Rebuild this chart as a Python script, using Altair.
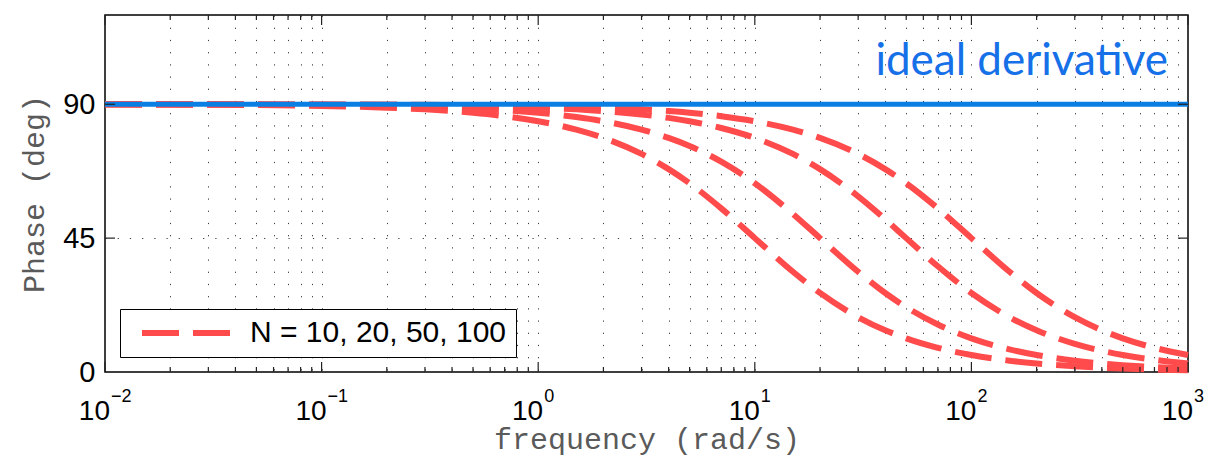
import altair as alt
import pandas as pd

# Frequency samples (rad/s) shared by all phase curves
freq = [0.01, 0.03, 0.1, 0.2, 0.3, 0.5, 0.7, 1, 1.5, 2, 3, 4, 5, 7, 10, 15, 20,
        30, 40, 50, 70, 100, 150, 200, 300, 400, 500, 700, 1000]

# Phase (deg) of the filtered derivative for each filter coefficient N
phase_n10 = [89.94, 89.83, 89.43, 88.85, 88.28, 87.14, 86.00, 84.29, 81.47, 78.69,
             73.30, 68.20, 63.43, 55.01, 45.00, 33.69, 26.57, 18.43, 14.04, 11.31,
             8.13, 5.71, 3.81, 2.86, 1.91, 1.43, 1.15, 0.82, 0.57]
phase_n20 = [89.97, 89.91, 89.71, 89.43, 89.14, 88.57, 88.00, 87.14, 85.71, 84.29,
             81.47, 78.69, 75.96, 70.71, 63.43, 53.13, 45.00, 33.69, 26.57, 21.80,
             15.95, 11.31, 7.59, 5.71, 3.81, 2.86, 2.29, 1.64, 1.15]
phase_n50 = [89.99, 89.97, 89.89, 89.77, 89.66, 89.43, 89.20, 88.85, 88.28, 87.71,
             86.57, 85.43, 84.29, 82.03, 78.69, 73.30, 68.20, 59.04, 51.34, 45.00,
             35.54, 26.57, 18.43, 14.04, 9.46, 7.13, 5.71, 4.09, 2.86]
phase_n100 = [89.99, 89.98, 89.94, 89.89, 89.83, 89.71, 89.60, 89.43, 89.14, 88.85,
              88.28, 87.71, 87.14, 86.00, 84.29, 81.47, 78.69, 73.30, 68.20, 63.43,
              55.01, 45.00, 33.69, 26.57, 18.43, 14.04, 11.31, 8.13, 5.71]

n_values = [10, 20, 50, 100]
legend_label = "N = 10, 20, 50, 100"

# Ideal derivative: constant +90 deg
ideal_freq = [0.01, 1000]
ideal_phase = [90, 90]

# Decade labels (10 with superscript exponent)
decades = [0.01, 0.1, 1, 10, 100, 1000]
exponents = ["\u22122", "\u22121", "0", "1", "2", "3"]

# Major and minor tick positions on the log axis
major_ticks = decades
minor_ticks = [m * d for d in decades[:-1] for m in range(2, 10)]
y_ticks = [0, 45, 90]

W, H = 1083, 357
RED = "#ff4b4b"
BLUE = "#0a7fe3"

rows = []
for n, series in zip(n_values, [phase_n10, phase_n20, phase_n50, phase_n100]):
    for f, p in zip(freq, series):
        rows.append({"freq": f, "phase": p, "N": n, "label": legend_label})
curves = pd.DataFrame(rows)
ideal = pd.DataFrame({"freq": ideal_freq, "phase": ideal_phase})
dec_df = pd.DataFrame({"freq": decades, "exp": exponents, "base": ["10"] * len(decades)})
major_df = pd.DataFrame({"freq": major_ticks})
minor_df = pd.DataFrame({"freq": minor_ticks})
ytick_df = pd.DataFrame({"phase": [45, 90]})

x_scale = alt.Scale(type="log", domain=[0.01, 1000], nice=False)
y_scale = alt.Scale(domain=[0, 120], nice=False)

x_axis = alt.Axis(
    values=major_ticks + minor_ticks, labels=False, ticks=False, domain=False,
    grid=True, gridColor="#3a3a3a", gridDash=[1.2, 11], gridWidth=1,
    title="frequency (rad/s)", titleFont="Liberation Mono", titleFontSize=30,
    titleFontWeight="normal", titleColor="#5a5a5a", titleY=76,
    titleBaseline="alphabetic",
)
y_axis = alt.Axis(
    values=y_ticks, ticks=False, domain=False, grid=True,
    gridColor="#3a3a3a", gridDash=[1.2, 11], gridWidth=1,
    labelFont="Liberation Sans", labelFontSize=29, labelColor="black",
    labelPadding=10, labelFlush=False,
    title="Phase (deg)", titleFont="Liberation Mono", titleFontSize=30,
    titleFontWeight="normal", titleColor="#5a5a5a", titleX=-62, titleY=H / 2,
    titleBaseline="alphabetic", titleAngle=270,
)

# Legend swatch: a wide dashed stroke drawn from a custom path so the
# legend row stays only as tall as its label
red = alt.Chart(curves).mark_line(
    strokeWidth=6, strokeDash=[37, 14], interpolate="monotone"
).encode(
    x=alt.X("freq:Q", scale=x_scale, axis=x_axis),
    y=alt.Y("phase:Q", scale=y_scale, axis=y_axis),
    detail="N:N",
    color=alt.Color(
        "label:N",
        scale=alt.Scale(domain=[legend_label], range=[RED]),
        legend=alt.Legend(
            title=None, orient="bottom-left", offset=15, padding=9,
            fillColor="white", strokeColor="black",
            symbolType="M-1,0H7", symbolSize=484, symbolStrokeWidth=6,
            symbolDash=[37, 14], symbolOffset=9,
            labelFont="Liberation Sans", labelFontSize=30, labelColor="black",
            labelOffset=82, labelLimit=500,
        ),
    ),
)

blue = alt.Chart(ideal).mark_line(strokeWidth=5, color=BLUE).encode(
    x=alt.X("freq:Q", scale=x_scale), y=alt.Y("phase:Q", scale=y_scale)
)

tick_style = dict(color="#222", strokeWidth=1.2)
bottom_major = alt.Chart(major_df).mark_rule(**tick_style).encode(
    x=alt.X("freq:Q", scale=x_scale), y=alt.value(H), y2=alt.value(H - 10))
top_major = alt.Chart(major_df).mark_rule(**tick_style).encode(
    x=alt.X("freq:Q", scale=x_scale), y=alt.value(0), y2=alt.value(10))
bottom_minor = alt.Chart(minor_df).mark_rule(**tick_style).encode(
    x=alt.X("freq:Q", scale=x_scale), y=alt.value(H), y2=alt.value(H - 5))
top_minor = alt.Chart(minor_df).mark_rule(**tick_style).encode(
    x=alt.X("freq:Q", scale=x_scale), y=alt.value(0), y2=alt.value(5))
left_ticks = alt.Chart(ytick_df).mark_rule(**tick_style).encode(
    y=alt.Y("phase:Q", scale=y_scale), x=alt.value(0), x2=alt.value(10))
right_ticks = alt.Chart(ytick_df).mark_rule(**tick_style).encode(
    y=alt.Y("phase:Q", scale=y_scale), x=alt.value(W), x2=alt.value(W - 10))

base_labels = alt.Chart(dec_df).mark_text(
    font="Liberation Sans", fontSize=28, color="black", align="right",
    baseline="alphabetic", dx=5, dy=48,
).encode(x=alt.X("freq:Q", scale=x_scale), y=alt.value(H), text="base:N")
exp_labels = alt.Chart(dec_df).mark_text(
    font="Liberation Sans", fontSize=18, color="black", align="left",
    baseline="alphabetic", dx=6, dy=30,
).encode(x=alt.X("freq:Q", scale=x_scale), y=alt.value(H), text="exp:N")

title_text = alt.Chart(pd.DataFrame({"t": ["ideal derivative"]})).mark_text(
    font="Lato", fontSize=44, color="#1670e8", align="right", baseline="alphabetic"
).encode(x=alt.value(1063), y=alt.value(60), text="t:N")

chart = alt.layer(
    red, blue, bottom_major, top_major, bottom_minor, top_minor,
    left_ticks, right_ticks, base_labels, exp_labels, title_text,
).properties(
    width=W, height=H,
    autosize=alt.AutoSizeParams(type="none"),
    padding={"left": 105, "top": 15, "right": 26, "bottom": 86},
    background="white",
).configure_view(stroke="black", strokeWidth=1.5)

chart.save("out.html", embed_options={"renderer": "svg", "actions": False})
